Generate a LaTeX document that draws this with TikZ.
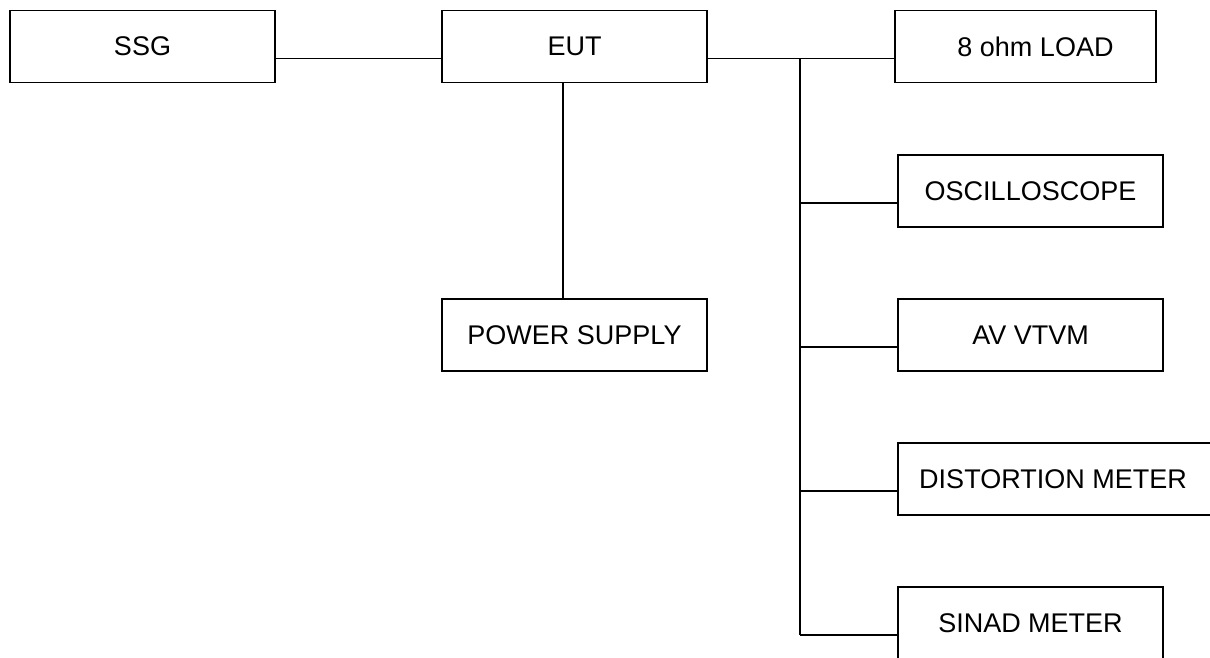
\documentclass[tikz,border=0pt]{standalone}
\usepackage{fontspec}
\setmainfont{Liberation Sans}
\usepackage{tikz}
\usetikzlibrary{positioning,calc}

\begin{document}
\begin{tikzpicture}[x=1pt,y=-1pt,every node/.style={font=\fontsize{27}{31}\selectfont}]
\tikzstyle{box}=[draw,line width=1.6pt,minimum width=265pt,minimum height=72pt,inner sep=0pt]
\tikzstyle{wire}=[line width=1.2pt]
\useasboundingbox (0,0) rectangle (1210,657);
\clip (0,0) rectangle (1210,657);
\fill[white] (0,0) rectangle (1210,657);
% top row
\node[box] (ssg) at (142.5,46.5) {SSG};
\node[box] (eut) at (574.5,46.5) {EUT};
\node[box,minimum width=261pt] (load) at (1025.5,46.5) {\hspace*{20pt}8 ohm LOAD};
\node[box] (psu) at (574.5,335) {POWER SUPPLY};
% meters on the bus
\node[box] (osc) at (1030.5,191) {OSCILLOSCOPE};
\node[box] (vtvm) at (1030.5,335) {AV VTVM};
\node[box,minimum width=316pt] (dist) at (1056,479) {\hspace*{-6pt}DISTORTION METER};
\node[box] (sinad) at (1030.5,623) {SINAD METER};
\coordinate (bus) at (800,58);
\draw[wire] ([yshift=-12pt]ssg.east)--([yshift=-12pt]eut.west);
\draw[wire] ([yshift=-12pt]eut.east)--([yshift=-12pt]load.west);
\draw[wire] ([xshift=-11.5pt]eut.south)--([xshift=-11.5pt]eut.south |- psu.north);
\draw[wire] (bus)--([yshift=-12pt]sinad.west -| bus);
\foreach \m in {osc,vtvm,dist,sinad}
  \draw[wire] ([yshift=-12pt]\m.west)--([yshift=-12pt]\m.west -| bus);
\end{tikzpicture}
\end{document}
